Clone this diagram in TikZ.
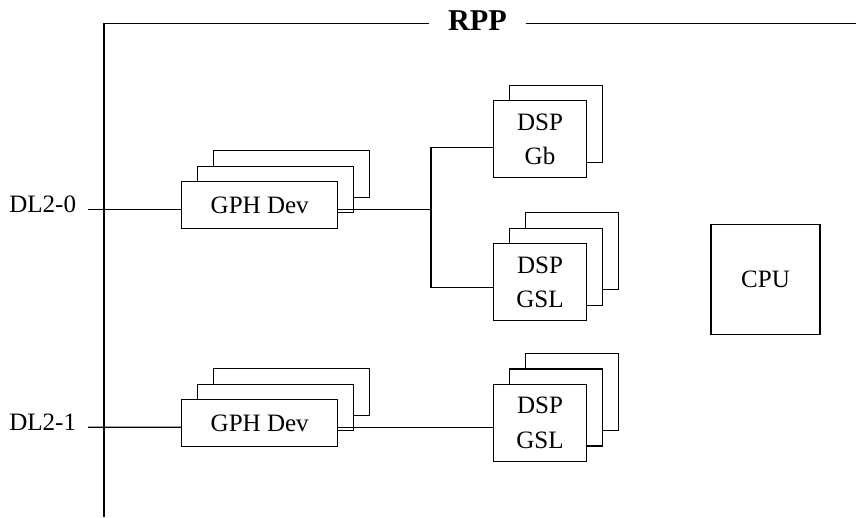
\documentclass[tikz,border=0pt]{standalone}
\usepackage{fontspec}
\setmainfont{Liberation Serif}
\usepackage{tikz}
\usetikzlibrary{
	               	calc,
	                backgrounds
					}

\tikzset{
	blk/.style={draw, fill=white, line width=0.9pt, align=center, inner sep=0pt},
	gphbox/.style={blk, minimum width=3.9cm, minimum height=1.165cm},
	dspbox/.style={blk, minimum width=2.335cm, minimum height=1.925cm},
	cpubox/.style={blk, minimum width=2.725cm, minimum height=2.75cm},
	lbl/.style={anchor=base east, inner sep=0pt}
}

\begin{document}
\begin{tikzpicture}[line width=0.9pt, font=\fontsize{17.8}{24.6}\selectfont]
	\useasboundingbox (0,0) rectangle (21.4,12.925);
	% RPP frame
	\node[anchor=base, inner xsep=0.45cm, inner ysep=0pt, font=\fontsize{21.5}{25}\selectfont\bfseries] (rpp) at (11.9375,12.165) {RPP};
	\coordinate (tl) at (2.6,12.3375);
	\coordinate (tr) at (21.4,12.3375);
	\coordinate (bl) at (2.6,0);
	\draw (rpp.west |- tl) -- (tl) -- (bl);
	\draw (rpp.east |- tr) -- (tr);
	% inputs
	\node[lbl] (dl0) at (1.9175,7.6075) {DL2-0};
	\node[lbl] (dl1) at (1.9175,2.1625) {DL2-1};
	\coordinate (in0) at (2.2,7.6925);
	\coordinate (in1) at (2.2,2.245);
	% GPH devices
	\foreach \k in {2,1}
		\node[gphbox] (gph0-\k) at ([shift={(\k*0.4,\k*0.3875)}]6.4925,7.8) {};
	\node[gphbox] (gph0) at (6.4925,7.8) {GPH Dev};
	\foreach \k in {2,1}
		\node[gphbox] (gph1-\k) at ([shift={(\k*0.4,\k*0.3875)}]6.4925,2.35) {};
	\node[gphbox] (gph1) at (6.4925,2.35) {GPH Dev};
	% DSPs
	\node[dspbox] (gb-1) at ([shift={(0.4,0.3875)}]13.5,9.445) {};
	\node[dspbox] (gb) at (13.5,9.445) {DSP\\Gb};
	\foreach \k in {2,1}
		\node[dspbox] (gsl0-\k) at ([shift={(\k*0.4,\k*0.3875)}]13.5,5.866) {};
	\node[dspbox] (gsl0) at (13.5,5.866) {DSP\\GSL};
	\foreach \k in {2,1}
		\node[dspbox] (gsl1-\k) at ([shift={(\k*0.4,\k*0.3875)}]13.5,2.35) {};
	\node[dspbox] (gsl1) at (13.5,2.35) {DSP\\GSL};
	% CPU
	\node[cpubox] (cpu) at (19.1375,5.9425) {CPU};
	% links
	\coordinate (br0) at (10.775,7.6925);
	\draw (in0) -- ([yshift=-0.1075cm]gph0.west);
	\draw ([yshift=-0.1075cm]gph0.east) -- (br0);
	\draw ([yshift=-0.2025cm]gb.west) -| (br0) |- ([yshift=-0.1235cm]gsl0.west);
	\draw (in1) -- ([yshift=-0.105cm]gph1.west);
	\draw ([yshift=-0.105cm]gph1.east) -- ([yshift=-0.105cm]gsl1.west);
\end{tikzpicture}
\end{document}
